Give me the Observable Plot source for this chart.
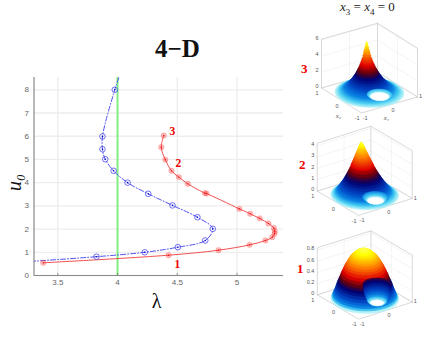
<!DOCTYPE html>
<html>
<head>
<meta charset="utf-8">
<script src="https://cdn.jsdelivr.net/npm/d3@7"></script>
<script src="https://cdn.jsdelivr.net/npm/@observablehq/plot@0.6"></script>
<style>
html,body{margin:0;padding:0;background:#fff}
#page{position:relative;width:423px;height:342px;overflow:hidden}
#page svg{position:absolute}
#head{position:absolute;left:340px;top:-1px;font:13px "Liberation Serif",serif;color:#222;white-space:nowrap}
#head sub{font-size:9px;line-height:0}
</style>
</head>
<body>
<div id="page"><div id="head"><i>x</i><sub>3</sub> = <i>x</i><sub>4</sub> = 0</div></div>
<script>
// ---- main diagram values
const redLambda = [4.387,4.366,4.40,4.452,4.513,4.588,4.731,4.745,5.02,5.11,5.19,5.263,5.308,5.316,5.314,5.295,5.238,5.105,4.845,4.427,3.378];
const redU      = [6.03,5.53,4.99,4.51,4.24,3.95,3.55,3.53,2.87,2.66,2.46,2.24,2.05,1.91,1.80,1.65,1.51,1.32,1.09,0.875,0.547];
const blueLambda = [3.977,3.874,3.874,3.897,3.967,4.084,4.257,4.46,4.669,4.797,4.734,4.505,4.228,3.824];
const blueU      = [8.0,5.99,5.44,5.01,4.51,4.0,3.52,3.02,2.51,2.01,1.51,1.22,1.0,0.81];
const blueEndTop = [4.01,8.52];
const blueEndLeft = [3.303,0.617];
const greenLambda = 4;
const xTicks = [3.5,4,4.5,5];
const yTicks = [0,1,2,3,4,5,6,7,8];
const branchLabels = ["3","2","1"];
const branchLambda = [4.46,4.51,4.50];
const branchU = [6.2,4.82,0.47];

// ---- surface profiles: disk radius of a level line and its height
const ringR = [1,.97,.94,.91,.88,.85,.82,.79,.76,.73,.70,.66,.62,.58,.54,.50,.46,.42,.38,.34,.32,.30,.28,.26,.24,.22,.20,.18,.16,.14,.12,.10,.09,.08,.07,.06,.05,.04,.03,.02,.01];
const ringZ3 = [0,.03,.07,.11,.16,.21,.27,.33,.4,.47,.55,.67,.8,.95,1.12,1.3,1.5,1.72,1.96,2.22,2.36,2.5,2.66,2.82,3.0,3.18,3.38,3.6,3.84,4.1,4.4,4.7,4.86,5.02,5.18,5.35,5.52,5.7,5.86,6.02,6.15];
const ringZ2 = [0,.03,.07,.12,.18,.25,.33,.42,.52,.62,.72,.87,1.03,1.2,1.38,1.57,1.77,1.98,2.2,2.44,2.56,2.68,2.8,2.93,3.05,3.18,3.32,3.45,3.58,3.7,3.83,3.95,4.02,4.08,4.14,4.2,4.26,4.31,4.36,4.4,4.44];
const ringZ1 = [0,.035,.07,.11,.15,.2,.25,.29,.33,.37,.42,.47,.52,.57,.61,.65,.69,.72,.75,.77,.78,.79,.80,.81,.82,.825,.83,.84,.845,.85,.855,.86,.862,.864,.865,.866,.867,.868,.869,.87,.87];
const pitR3 = [.36,.33,.30,.28], pitZ3 = [.24,.16,.09,.04];
const pitR2 = [.38,.34,.30,.27], pitZ2 = [.3,.2,.11,.05];
const pitR1 = [.42,.41,.41,.40,.39,.38,.36,.34,.32,.30,.28,.25], pitZ1 = [.33,.30,.27,.24,.21,.18,.15,.12,.09,.06,.03,.015];
const zTicks3 = [0,2,4,6], zTicks2 = [0,1,2,3,4], zTicks1 = [0,.2,.4,.6,.8];
const diskTicks = [-1,0,1];

// ---- colour ramp of the surfaces
const rampAt = [0,.03,.08,.18,.33,.43,.55,.75,.95,1];
const rampColor = ["#b4f2f8","#48cdf2","#0a84e4","#0040c0","#000070","#600010","#e00000","#ff8000","#ffff00","#ffff50"];

const page = document.getElementById("page");

// ---- main chart
const red = redLambda.map((l,i)=>({l,u:redU[i]}));
const blue = blueLambda.map((l,i)=>({l,u:blueU[i]}));
const blueLine = [{l:blueEndTop[0],u:blueEndTop[1]},...blue,{l:blueEndLeft[0],u:blueEndLeft[1]}];
const labels = branchLabels.map((t,i)=>({t,l:branchLambda[i],u:branchU[i]}));
const main = Plot.plot({
  width:295,height:342,marginLeft:33.5,marginRight:12,marginTop:77,marginBottom:67,
  style:{background:"transparent",left:"0px",top:"0px",maxWidth:"none"},
  x:{domain:[3.301,5.389]},
  y:{domain:[0,8.53]},
  marks:[
    Plot.ruleX(xTicks,{stroke:"#ededed",strokeWidth:1.3}),
    Plot.ruleY(yTicks,{stroke:"#ededed",strokeWidth:1.3}),
    Plot.ruleX([greenLambda],{y1:0,y2:8.53,stroke:"#80f080",strokeWidth:2}),
    Plot.ruleX([3.301],{stroke:"#8a8a8a",strokeWidth:1.2}),
    Plot.ruleY([0],{stroke:"#8a8a8a",strokeWidth:1.2}),
    Plot.ruleX(xTicks,{y1:0,y2:.09,stroke:"#666",strokeWidth:.7}),
    Plot.axisX({ticks:xTicks,tickSize:0,tickPadding:4,fontSize:8,color:"#666",label:null,fontFamily:"Liberation Sans",tickFormat:d=>String(d)}),
    Plot.axisY({ticks:yTicks,tickSize:0,tickPadding:5,fontSize:8,color:"#666",label:null,fontFamily:"Liberation Sans"}),
    Plot.line(red,{x:"l",y:"u",stroke:"#f35050",strokeWidth:1,curve:"catmull-rom"}),
    Plot.line(blueLine,{x:"l",y:"u",stroke:"#5050f0",strokeWidth:1,strokeDasharray:"5 2 1 2",curve:"catmull-rom"}),
    Plot.dot(red,{x:"l",y:"u",r:2.7,fill:"#ff2020",fillOpacity:.3,stroke:"#ff4040",strokeOpacity:.4,strokeWidth:.6}),
    Plot.dot(red,{x:"l",y:"u",r:.6,fill:"#d00000"}),
    Plot.dot(blue,{x:"l",y:"u",r:2.8,stroke:"#4a4af0",strokeWidth:.8,fill:"none"}),
    Plot.dot(blue,{x:"l",y:"u",r:.8,fill:"#0000c0"}),
    Plot.text(labels,{x:"l",y:"u",text:"t",fill:"#ee0000",fontSize:11.5,fontWeight:"bold",fontFamily:"Liberation Serif"}),
    Plot.text(["4−D"],{frameAnchor:"top-left",dx:143.5,dy:-38,fontSize:25,fontWeight:"bold",fontFamily:"Liberation Serif",fill:"#111",textAnchor:"middle"}),
    Plot.text(["λ"],{frameAnchor:"bottom-left",dx:122.5,dy:32.5,fontSize:20,fontFamily:"Liberation Serif",fill:"#111",textAnchor:"middle"}),
    Plot.text(["u₀"],{frameAnchor:"top-left",dx:-19.5,dy:105,rotate:-90,fontSize:20,fontStyle:"italic",fontFamily:"Liberation Serif",fill:"#111",textAnchor:"middle",lineAnchor:"middle"})
  ]
});
page.appendChild(main);

// ---- the three surfaces
function surface(o){
  const P=(x1,x2,z)=>({u:x1*o.v1[0]+x2*o.v2[0], v:x1*o.v1[1]+x2*o.v2[1]+z*o.k});
  const seg=(pts,id)=>pts.map(p=>({...P(...p),id}));
  const rings=[]; const angles=d3.range(0,360,10).map(d=>d*Math.PI/180);
  const addRing=(list,id,x1c,x2c,r,z)=>angles.forEach(a=>list.push({id,t:z/o.zMax,...P(x1c+r*Math.cos(a),x2c+r*Math.sin(a),z)}));
  o.ringZ.forEach((z,i)=>addRing(rings,"m"+i,0,o.shift*(1-ringR[i]),ringR[i],z));
  o.pitZ.forEach((z,i)=>addRing(rings,"p"+i,o.pit[0],o.pit[1],o.pitR[i],z));
  const hole=[]; addRing(hole,"h",o.pit[0],o.pit[1],o.holeR,0);
  const zTop=o.zTop;
  const box=[
    ...seg([[-1,1,0],[-1,1,zTop],[1,1,zTop],[1,-1,zTop],[1,-1,0]],"a"),
    ...seg([[-1,1,0],[-1,-1,0],[1,-1,0]],"b"),
    ...seg([[-1,1,0],[1,1,0],[1,-1,0]],"c"),
    ...seg([[1,1,0],[1,1,zTop]],"d")
  ];
  const grid=[
    ...o.zTicks.flatMap((z,i)=>seg([[-1,1,z],[1,1,z],[1,-1,z]],"z"+i)),
    ...seg([[0,1,0],[0,1,zTop]],"x"),...seg([[1,0,0],[1,0,zTop]],"y")
  ];
  const zLab=o.zTicks.map(z=>({...P(-1,1,z),t:String(z)}));
  const x2Lab=diskTicks.map(d=>({...P(-1,d,0),t:String(d)}));
  const x1Lab=diskTicks.slice(0,2).map(d=>({...P(d,-1,0),t:String(d)}));
  const x1End=diskTicks.slice(2).map(d=>({...P(d,-1,0),t:String(d)}));
  const tick={fontSize:5.5,fill:"#555",fontFamily:"Liberation Sans"};
  const marks=[
    Plot.line(grid,{x:"u",y:"v",z:"id",stroke:"#ececec",strokeWidth:.6}),
    Plot.line(box,{x:"u",y:"v",z:"id",stroke:"#c8c8c8",strokeWidth:.7}),
    Plot.line(rings,{x:"u",y:"v",z:"id",fill:"t",stroke:"t",strokeWidth:.7}),
    Plot.line(hole,{x:"u",y:"v",z:"id",fill:"#fff",stroke:"#eafcff",strokeWidth:.6}),
    Plot.text(zLab,{x:"u",y:"v",text:"t",dx:-3,dy:-1.5,textAnchor:"end",...tick}),
    Plot.text(x2Lab,{x:"u",y:"v",text:"t",dx:-4.5,dy:5.5,...tick}),
    Plot.text(x1Lab,{x:"u",y:"v",text:"t",dx:3.5,dy:5,...tick}),
    Plot.text(x1End,{x:"u",y:"v",text:"t",dx:3,dy:-.5,...tick}),
    Plot.text([o.name],{frameAnchor:"top-left",dx:o.nameAt[0],dy:o.nameAt[1],fill:"#ee0000",fontSize:13,fontWeight:"bold",fontFamily:"Liberation Serif"})
  ];
  if(o.axisNames){
    marks.push(Plot.text([{...P(-1,0,0),t:"x₂"}],{x:"u",y:"v",text:"t",dx:-3,dy:15,...tick,fontFamily:"Liberation Serif",fontStyle:"italic",fontSize:7}));
    marks.push(Plot.text([{...P(0,-1,0),t:"x₁"}],{x:"u",y:"v",text:"t",dx:-3,dy:13,...tick,fontFamily:"Liberation Serif",fontStyle:"italic",fontSize:7}));
  }
  const svg=Plot.plot({
    width:o.w,height:o.h,margin:0,
    style:{background:"transparent",left:o.left+"px",top:o.top+"px",maxWidth:"none",overflow:"visible"},
    x:{domain:[-o.cx,o.w-o.cx],axis:null},
    y:{domain:[o.cy-o.h,o.cy],axis:null},
    color:{type:"linear",domain:rampAt,range:rampColor,interpolate:"rgb",clamp:true},
    marks
  });
  page.appendChild(svg);
}
surface({name:"3",nameAt:[5.5,63],left:295,top:0,w:128,h:125,cx:74,cy:92,v1:[28,8],v2:[-20,12.5],k:8,zTop:6.1,zMax:6.15,shift:.15,
  ringZ:ringZ3,pitR:pitR3,pitZ:pitZ3,pit:[.09,-.38],holeR:.27,zTicks:zTicks3,axisNames:true});
surface({name:"2",nameAt:[3.5,39.5],left:295,top:120,w:128,h:105,cx:69.2,cy:74.3,v1:[26.85,8.5],v2:[-20.65,12.15],k:11.4,zTop:4.2,zMax:4.44,shift:.17,
  ringZ:ringZ2,pitR:pitR2,pitZ:pitZ2,pit:[.02,-.5],holeR:.24,zTicks:zTicks2});
surface({name:"1",nameAt:[1.5,38],left:295,top:225,w:128,h:117,cx:69.3,cy:73,v1:[26.85,8.5],v2:[-20.65,12.15],k:56,zTop:.84,zMax:.87,shift:.05,
  ringZ:ringZ1,pitR:pitR1,pitZ:pitZ1,pit:[.12,-.44],holeR:.2,zTicks:zTicks1});
</script>
</body>
</html>
